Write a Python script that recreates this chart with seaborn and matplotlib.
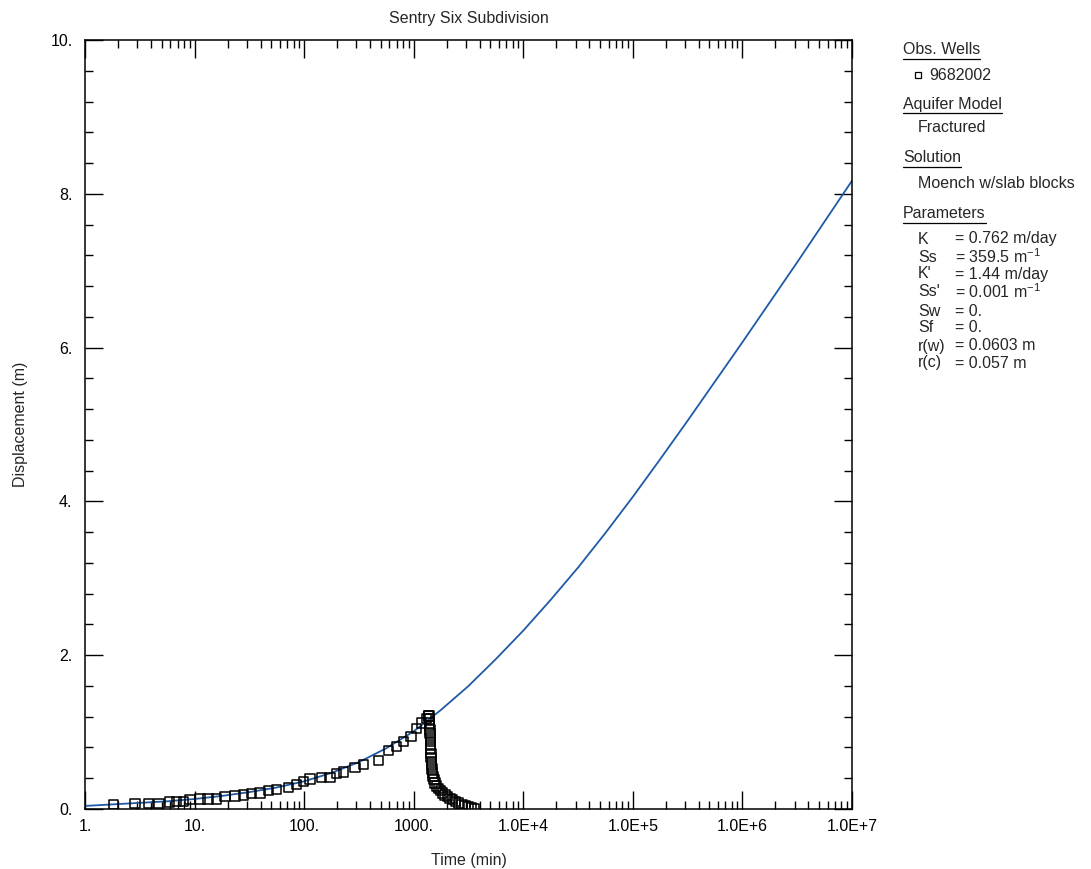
import numpy as np
import pandas as pd
import seaborn as sns
import matplotlib
matplotlib.use("Agg")
import matplotlib.pyplot as plt
from matplotlib.lines import Line2D
from matplotlib.ticker import LogLocator, MultipleLocator, NullFormatter

# ---------------- data ----------------
curve_log_t = [0.00, 0.25, 0.50, 0.75, 1.00, 1.25, 1.50, 1.75, 2.00, 2.25,
               2.50, 2.75, 3.00, 3.25, 3.50, 3.75, 4.00, 4.25, 4.50, 4.75,
               5.00, 5.25, 5.50, 5.75, 6.00, 6.25, 6.50, 6.75, 7.00]
curve_y = [0.04, 0.06, 0.08, 0.10, 0.13, 0.17, 0.22, 0.28, 0.36, 0.47,
           0.61, 0.79, 1.01, 1.29, 1.60, 1.95, 2.32, 2.72, 3.14, 3.59,
           4.06, 4.55, 5.05, 5.56, 6.07, 6.59, 7.11, 7.64, 8.17]

pump_t = [1.81, 2.86, 3.79, 4.73, 5.89, 6.87, 7.89, 9.08, 11.2, 13.3, 15.9,
          19.0, 23.4, 27.9, 33.2, 39.5, 47.1, 56.2, 71.7, 85.5, 98.4, 113,
          144, 172, 198, 228, 291, 347, 475, 586, 699, 804, 945, 1064, 1183,
          1314, 1360]
pump_y = [0.06, 0.07, 0.07, 0.07, 0.09, 0.10, 0.10, 0.12, 0.13, 0.13, 0.13,
          0.16, 0.17, 0.18, 0.20, 0.21, 0.24, 0.25, 0.28, 0.32, 0.36, 0.39,
          0.41, 0.41, 0.46, 0.48, 0.54, 0.58, 0.63, 0.76, 0.81, 0.88, 0.94,
          1.05, 1.12, 1.18, 1.21]

recov_t = [1380, 1390, 1395, 1400, 1405, 1410, 1415, 1420, 1425, 1430, 1435,
           1440, 1445, 1455, 1465, 1480, 1500, 1530, 1570, 1620, 1690, 1760,
           1840, 1930, 2030, 2140, 2270, 2410, 2570, 2750, 2950, 3150, 3380,
           3600]
recov_y = [1.21, 1.17, 1.12, 1.08, 1.03, 0.98, 0.93, 0.88, 0.83, 0.78, 0.72,
           0.67, 0.62, 0.57, 0.52, 0.47, 0.42, 0.38, 0.34, 0.30, 0.27, 0.24,
           0.21, 0.18, 0.16, 0.14, 0.12, 0.10, 0.08, 0.06, 0.045, 0.03, 0.02,
           0.01]

x_ticks = [1, 10, 100, 1000, 1e4, 1e5, 1e6, 1e7]
x_tick_labels = ["1.", "10.", "100.", "1000.", "1.0E+4", "1.0E+5", "1.0E+6", "1.0E+7"]
y_ticks = [0, 2, 4, 6, 8, 10]
y_tick_labels = ["0.", "2.", "4.", "6.", "8.", "10."]

title = "Sentry Six Subdivision"
x_label = "Time (min)"
y_label = "Displacement (m)"

# ---------------- style ----------------
sns.set_theme(style="ticks")
FONT = ["Liberation Sans", "DejaVu Sans"]
plt.rcParams["font.family"] = FONT
plt.rcParams["mathtext.fontset"] = "custom"
plt.rcParams["mathtext.rm"] = "Liberation Sans"
plt.rcParams["mathtext.it"] = "Liberation Sans:italic"
plt.rcParams["mathtext.bf"] = "Liberation Sans:bold"
FS = 11.5

W, H = 1091, 869
fig = plt.figure(figsize=(W / 100, H / 100), dpi=100)
fig.patch.set_facecolor("white")
ax = fig.add_axes([85 / W, (H - 809) / H, (852 - 85) / W, (809 - 40) / H])
ax.set_facecolor("white")
ax.set_xscale("log")

curve_df = pd.DataFrame({"t": np.power(10.0, curve_log_t), "y": curve_y})
obs_df = pd.DataFrame({"t": pump_t + recov_t, "y": pump_y + recov_y})

sns.lineplot(data=curve_df, x="t", y="y", ax=ax, color="#1f5aa6",
             linewidth=1.3, sort=False, zorder=2)
sns.scatterplot(data=obs_df, x="t", y="y", ax=ax, marker="s", s=46,
                facecolors="none", edgecolor="black", linewidth=1.1,
                zorder=3, legend=False)

ax.set_xlim(1, 1e7)
ax.set_ylim(0, 10)
ax.set_xticks(x_ticks)
ax.set_xticklabels(x_tick_labels)
ax.xaxis.set_minor_locator(LogLocator(base=10, subs=np.arange(2, 10), numticks=100))
ax.xaxis.set_minor_formatter(NullFormatter())
ax.set_yticks(y_ticks)
ax.set_yticklabels(y_tick_labels)
ax.yaxis.set_minor_locator(MultipleLocator(0.4))

ax.tick_params(which="both", direction="in", top=True, right=True,
               colors="black", labelsize=FS)
ax.tick_params(which="major", length=13, width=1.0)
ax.tick_params(which="minor", length=6, width=1.0)
ax.tick_params(axis="y", pad=9)
ax.tick_params(axis="x", pad=7)
for sp in ax.spines.values():
    sp.set_visible(True)
    sp.set_color("black")
    sp.set_linewidth(1.1)

ax.set_xlabel(x_label, fontsize=FS, labelpad=14)
ax.set_ylabel(y_label, fontsize=FS, labelpad=16)
ax.set_title(title, fontsize=FS, pad=12)
ax.grid(False)

# ---------------- side panel ----------------
def fx(px):
    return px / W

def fy(py):
    return 1 - py / H

headers = [("Obs. Wells", 50), ("Aquifer Model", 104), ("Solution", 158), ("Parameters", 214)]
items = [("Fractured", 128), ("Moench w/slab blocks", 183)]
params_names = ["K", "Ss", "K'", "Ss'", "Sw", "Sf", "r(w)", "r(c)"]
params_vals = ["= 0.762 m/day", "= 359.5 m$^{-1}$", "= 1.44 m/day",
               "= 0.001 m$^{-1}$", "= 0.", "= 0.", "= 0.0603 m", "= 0.057 m"]
params_y = [239, 257, 274, 292, 311, 328, 346, 363]

header_texts = []
for txt, py in headers:
    t = fig.text(fx(903), fy(py), txt, fontsize=FS, va="center", ha="left")
    header_texts.append(t)
for txt, py in items:
    fig.text(fx(918), fy(py), txt, fontsize=FS, va="center", ha="left")

fig.add_artist(Line2D([fx(918)], [fy(75)], marker="s", markersize=5,
                      markerfacecolor="none", markeredgecolor="black",
                      markeredgewidth=0.9, transform=fig.transFigure))
fig.text(fx(929), fy(75), "9682002", fontsize=FS, va="center", ha="left")

for name, val, py in zip(params_names, params_vals, params_y):
    fig.text(fx(918), fy(py), name, fontsize=FS, va="center", ha="left")
    fig.text(fx(955), fy(py), val, fontsize=FS, va="center", ha="left")

fig.canvas.draw()
renderer = fig.canvas.get_renderer()
for t in header_texts:
    bb = t.get_window_extent(renderer=renderer).transformed(fig.transFigure.inverted())
    yline = bb.y0 - 1.5 / H
    fig.add_artist(Line2D([bb.x0, bb.x1], [yline, yline], color="black",
                          linewidth=0.9, transform=fig.transFigure))

fig.savefig("out.png", dpi=100, facecolor="white")
